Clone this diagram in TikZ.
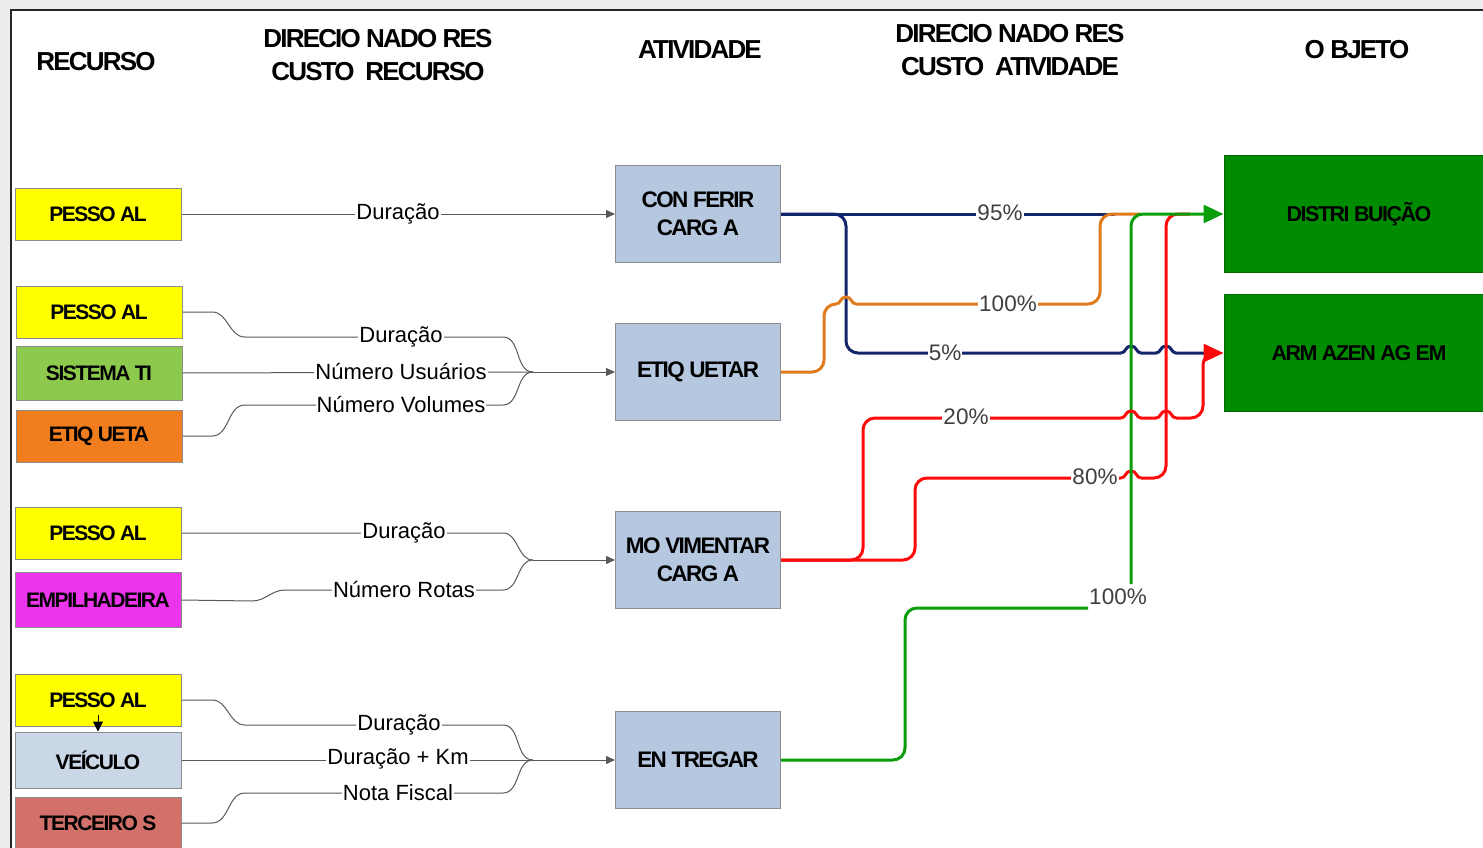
\documentclass[tikz,border=0pt]{standalone}
\usepackage{fontspec}
\setmainfont{Liberation Sans}
\newfontfamily\capsfont[LetterSpace=-7]{Liberation Sans}
\usetikzlibrary{arrows.meta}
\definecolor{ybox}{HTML}{FFFF00}
\definecolor{gbox}{HTML}{8CC94C}
\definecolor{obox}{HTML}{F07D1E}
\definecolor{mbox}{HTML}{EC34EC}
\definecolor{vbox}{HTML}{C9D7E7}
\definecolor{tbox}{HTML}{D2716A}
\definecolor{abox}{HTML}{B6C8E0}
\definecolor{objg}{HTML}{008C00}
\definecolor{navyl}{HTML}{13256B}
\definecolor{orngl}{HTML}{E07A1F}
\definecolor{redl}{HTML}{FF0A0A}
\definecolor{grnl}{HTML}{0A9E0A}
\begin{document}
\begin{tikzpicture}[x=1pt,y=1pt,
  res/.style={draw=black!45, line width=1pt, minimum width=166pt, minimum height=52pt, inner sep=0pt, font=\capsfont\bfseries\fontsize{21}{24}\selectfont},
  act/.style={draw=black!45, line width=1pt, fill=abox, minimum width=165pt, minimum height=97pt, inner sep=0pt, align=center, font=\capsfont\bfseries\fontsize{22.5}{28}\selectfont},
  obj/.style={fill=objg, draw=objg!75!black, line width=1pt, minimum width=270pt, minimum height=117pt, inner sep=0pt, font=\capsfont\bfseries\fontsize{21.5}{24}\selectfont},
  hdr/.style={align=center, font=\capsfont\bfseries\fontsize{26}{33}\selectfont},
  lbl/.style={fill=white, inner sep=1pt, font=\fontsize{22}{24}\selectfont},
  pct/.style={fill=white, inner sep=1pt, text=black!75, font=\fontsize{22.5}{24}\selectfont},
  conn/.style={line width=1pt, draw=black!65},
  carr/.style={conn, -{Triangle[length=9pt,width=8pt]}},
  flow/.style={line width=3pt, rounded corners=12pt},
  hopl/.style={line width=3pt},
  bigtip/.style={-{Triangle[length=20pt,width=18pt]}}
]
\useasboundingbox (0,0) rectangle (1483,-848);
\clip (0,0) rectangle (1483,-848);
\fill[black!7] (0,0) rectangle (1483,-848);
\fill[white] (11,-11) rectangle (1483,-848);
\draw[line width=2pt, black!85] (10.5,-848) -- (10.5,-10.5) -- (1483,-10.5);

% headers
\node[hdr] (h1) at (96,-62) {RECURSO};
\node[hdr] (h2) at (378,-55) {DIRECIO NADO RES\\CUSTO\ \ RECURSO};
\node[hdr] (h3) at (700,-50) {ATIVIDADE};
\node[hdr] (h4) at (1010,-50) {DIRECIO NADO RES\\CUSTO\ \ ATIVIDADE};
\node[hdr] (h5) at (1357,-50) {O BJETO};

% resources
\node[res, fill=ybox] (r1) at (98,-214) {PESSO AL};
\node[res, fill=ybox] (r2) at (99,-312) {PESSO AL};
\node[res, fill=gbox, minimum height=54pt] (r3) at (99,-373) {SISTEMA TI};
\node[res, fill=obox] (r4) at (99,-436) {ETIQ UETA};
\node[res, fill=ybox] (r5) at (98,-533) {PESSO AL};
\node[res, fill=mbox, minimum height=55pt] (r6) at (98,-600) {EMPILHADEIRA};
\node[res, fill=ybox] (r7) at (98,-700) {PESSO AL};
\node[res, fill=vbox, minimum height=56pt] (r8) at (98,-760) {VEÍCULO};
\node[res, fill=tbox] (r9) at (98,-823) {TERCEIRO S};

% activities
\node[act] (a1) at (698,-214) {CON FERIR\\CARG A};
\node[act] (a2) at (698,-372) {ETIQ UETAR};
\node[act] (a3) at (698,-560) {MO VIMENTAR\\CARG A};
\node[act] (a4) at (698,-760) {EN TREGAR};

% objects
\node[obj] (o1) at (1359,-214) {DISTRI BUIÇÃO};
\node[obj] (o2) at (1359,-353) {ARM AZEN AG EM};

% left connectors
\coordinate (m2) at (533,-372);
\coordinate (m3) at (533,-560);
\coordinate (m4) at (533,-760);

\draw[carr] (r1.east) -- (a1.west);

\draw[conn] (r2.east) -- (212,-312) to[out=0,in=180] (245,-337) -- (503,-337) to[out=0,in=180] (m2);
\draw[conn] (r3.east) -- (m2);
\draw[conn] (r4.east) -- (212,-436) to[out=0,in=180] (245,-405) -- (503,-405) to[out=0,in=180] (m2);
\draw[carr] (m2) -- (a2.west);

\draw[conn] (r5.east) -- (503,-533) to[out=0,in=180] (m3);
\draw[conn] (r6.east) -- (252,-601) to[out=0,in=180] (285,-590) -- (503,-590) to[out=0,in=180] (m3);
\draw[carr] (m3) -- (a3.west);

\draw[conn] (r7.east) -- (212,-700) to[out=0,in=180] (245,-725) -- (503,-725) to[out=0,in=180] (m4);
\draw[conn] (r8.east) -- (m4);
\draw[conn] (r9.east) -- (212,-823) to[out=0,in=180] (245,-793) -- (503,-793) to[out=0,in=180] (m4);
\draw[carr] (m4) -- (a4.west);

\draw[-{Triangle[length=10pt,width=10pt]}, line width=1pt] ([yshift=12pt]r7.south) -- (r8.north);

\node[lbl] (l1) at (398,-214) {Duração};
\node[lbl] (l2) at (401,-337) {Duração};
\node[lbl] (l3) at (401,-372) {Número Usuários};
\node[lbl] (l4) at (401,-405) {Número Volumes};
\node[lbl] (l5) at (404,-533) {Duração};
\node[lbl] (l6) at (404,-590) {Número Rotas};
\node[lbl] (l7) at (399,-725) {Duração};
\node[lbl] (l8) at (398,-759) {Duração + Km};
\node[lbl] (l9) at (398,-793) {Nota Fiscal};

% right flows
\coordinate (nv) at (1115,-214);
\coordinate (oe) at (1140,-214);
\coordinate (re) at (1190,-214);
\coordinate (ge) at (1088,-608);
\coordinate (gs) at (1131,-584);
\coordinate (nb1) at (1121,-353);
\coordinate (nb2) at (1210,-353);
\coordinate (ob1) at (836,-304);
\coordinate (ob2) at (856,-304);
\coordinate (rb1) at (1121,-478);
\coordinate (rb2) at (1141,-478);
\coordinate (qb1) at (1121,-418);
\coordinate (qb2) at (1176,-418);

% navy
\draw[navyl, flow] (a1.east) -- (nv);
\draw[navyl, flow] (a1.east) -- (846,-214) -- (846,-353) -- (nb1);
\draw[navyl, hopl] (nb1)
  .. controls (1126,-353) and (1125,-346) .. (1131,-346)
  .. controls (1137,-346) and (1136,-353) .. (1141,-353)
  -- (1156,-353)
  .. controls (1161,-353) and (1160,-346) .. (1166,-346)
  .. controls (1172,-346) and (1171,-353) .. (1176,-353)
  -- (nb2);
% orange
\draw[orngl, flow] (a2.east) -- (824,-372) -- (824,-304) -- (ob1);
\draw[orngl, hopl] (ob1)
  .. controls (841,-304) and (840,-297) .. (846,-297)
  .. controls (852,-297) and (851,-304) .. (ob2);
\draw[orngl, flow] (ob2) -- (1100,-304) -- (1100,-214) -- (oe);
% red 80
\draw[redl, flow] (a3.east) -- (915,-560) -- (915,-478) -- (rb1);
\draw[redl, hopl] (rb1)
  .. controls (1126,-478) and (1125,-471) .. (1131,-471)
  .. controls (1137,-471) and (1136,-478) .. (rb2);
\draw[redl, flow] (rb2) -- (1166,-478) -- (1166,-214) -- (re);
% green
\draw[grnl, flow] (a4.east) -- (905,-760) -- (905,-608) -- (ge);
\draw[grnl, flow, bigtip] (gs) -- (1131,-214) -- (o1.west);
% red 20
\draw[redl, flow] (a3.east) -- (863,-560) -- (863,-418) -- (qb1);
\draw[redl, hopl] (qb1)
  .. controls (1126,-418) and (1125,-411) .. (1131,-411)
  .. controls (1137,-411) and (1136,-418) .. (1141,-418)
  -- (1156,-418)
  .. controls (1161,-418) and (1160,-411) .. (1166,-411)
  .. controls (1172,-411) and (1171,-418) .. (qb2);
\draw[redl, flow, bigtip] (qb2) -- (1203,-418) -- (1203,-353) -- (o2.west);

\node[pct] (p1) at (1000,-213) {95\%};
\node[pct] (p2) at (1008,-304) {100\%};
\node[pct] (p3) at (945,-353) {5\%};
\node[pct] (p4) at (966,-417) {20\%};
\node[pct] (p5) at (1095,-477) {80\%};
\node[pct] (p6) at (1118,-597) {100\%};
\end{tikzpicture}
\end{document}
